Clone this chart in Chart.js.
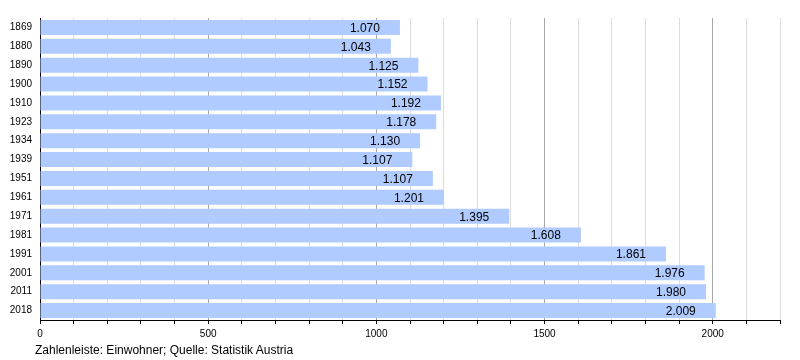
<!DOCTYPE html>
<html>
<head>
<meta charset="utf-8">
<script src="https://cdn.jsdelivr.net/npm/chart.js@4/dist/chart.umd.min.js"></script>
<style>
  html, body { margin: 0; padding: 0; background: #fff; }
  #wrap { position: relative; width: 800px; height: 360px; }
  #caption {
    position: absolute; left: 35px; top: 343px;
    font: 12px "Liberation Sans", Arial, sans-serif; color: #000;
  }
</style>
</head>
<body>
<div id="wrap">
  <canvas id="chart" width="800" height="360"></canvas>
  <div id="caption">Zahlenleiste: Einwohner; Quelle: Statistik Austria</div>
</div>
<script>
  // years (categories)
  const years = ['1869', '1880', '1890', '1900', '1910', '1923', '1934', '1939',
                 '1951', '1961', '1971', '1981', '1991', '2001', '2011', '2018'];
  // bar lengths as drawn
  const population = [1070, 1043, 1125, 1152, 1192, 1178, 1130, 1107,
                      1168, 1201, 1395, 1608, 1861, 1976, 1980, 2009];
  // texts printed on the bars (1951 reads 1.107 in the source)
  const barTexts = ['1.070', '1.043', '1.125', '1.152', '1.192', '1.178', '1.130', '1.107',
                    '1.107', '1.201', '1.395', '1.608', '1.861', '1.976', '1.980', '2.009'];
  const xMax = 2200;
  const xLabeled = [0, 500, 1000, 1500, 2000];

  const FONT = '"Liberation Sans", Arial, sans-serif';

  // draws the value text inside the end of each bar
  const barTextPlugin = {
    id: 'barTextPlugin',
    afterDatasetsDraw(chart) {
      const { ctx } = chart;
      const meta = chart.getDatasetMeta(0);
      ctx.save();
      ctx.font = '12px ' + FONT;
      ctx.fillStyle = '#000';
      ctx.textAlign = 'right';
      ctx.textBaseline = 'middle';
      meta.data.forEach((bar, i) => {
        ctx.fillText(barTexts[i], bar.x - 20, bar.y + 1);
      });
      ctx.restore();
    }
  };

  new Chart(document.getElementById('chart'), {
    type: 'bar',
    data: {
      labels: years,
      datasets: [{
        data: population,
        backgroundColor: '#b0cbff',
        borderWidth: 0,
        categoryPercentage: 1,
        barPercentage: 0.8
      }]
    },
    options: {
      indexAxis: 'y',
      responsive: false,
      animation: false,
      layout: { padding: { left: 0, top: 18, right: 20, bottom: 17 } },
      plugins: { legend: { display: false }, tooltip: { enabled: false } },
      scales: {
        x: {
          min: 0,
          max: xMax,
          afterFit(scale) { scale.height = 23; },
          border: { color: '#000', width: 1 },
          grid: {
            color: (c) => (c.tick && c.tick.value % 500 === 0) ? '#a8a8a8' : '#dddddd',
            tickColor: '#000',
            tickLength: 4,
            drawTicks: true
          },
          ticks: {
            stepSize: 100,
            autoSkip: false,
            maxRotation: 0,
            padding: 4,
            color: '#000',
            font: { family: FONT, size: 10 },
            callback: (v) => xLabeled.includes(v) ? String(v) : ''
          }
        },
        y: {
          afterFit(scale) { scale.width = 40; },
          border: { color: '#000', width: 1 },
          grid: { display: false, drawTicks: false },
          ticks: {
            padding: 8,
            color: '#000',
            font: { family: FONT, size: 10 }
          }
        }
      }
    },
    plugins: [barTextPlugin]
  });
</script>
</body>
</html>
